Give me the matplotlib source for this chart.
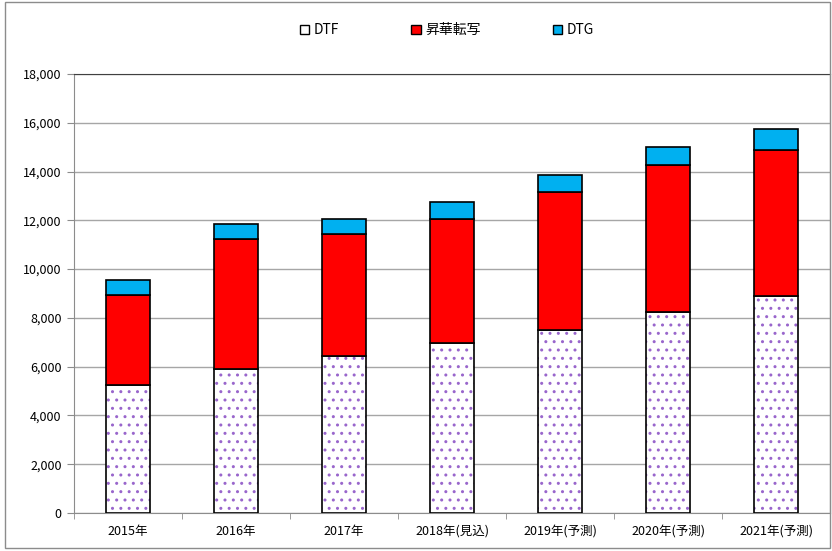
import matplotlib
matplotlib.use('Agg')
import matplotlib.pyplot as plt
from matplotlib.patches import Rectangle, Patch
from matplotlib.ticker import FuncFormatter, MultipleLocator
import numpy as np

plt.rcParams['font.family'] = ['Noto Sans CJK JP', 'DejaVu Sans']
plt.rcParams['hatch.linewidth'] = 1.0

# data
years = ['2015年', '2016年', '2017年', '2018年(見込)', '2019年(予測)', '2020年(予測)', '2021年(予測)']
dtf = [5250, 5900, 6450, 6950, 7500, 8250, 8900]
shoka = [3700, 5350, 5000, 5100, 5650, 6000, 6000]
dtg = [600, 620, 620, 700, 720, 770, 850]

fig = plt.figure(figsize=(8.32, 5.51), dpi=100)
ax = fig.add_axes([74/832, 38/551, 756/832, 439/551])

x = np.arange(len(years))
w = 0.4
bottom2 = np.array(dtf)
bottom3 = bottom2 + np.array(shoka)

# dotted DTF: purple dots, then black outline on top
ax.bar(x, dtf, w, color='white', edgecolor='#9966cc', hatch='..', linewidth=0, zorder=3)
ax.bar(x, dtf, w, color='none', edgecolor='black', linewidth=1.2, zorder=4)
ax.bar(x, shoka, w, bottom=bottom2, color='#ff0000', edgecolor='black', linewidth=1.2, zorder=4)
ax.bar(x, dtg, w, bottom=bottom3, color='#00b0f0', edgecolor='black', linewidth=1.2, zorder=4)

ax.set_xlim(-0.5, len(years) - 0.5)
ax.set_ylim(0, 18000)
ax.yaxis.set_major_locator(MultipleLocator(2000))
ax.yaxis.set_major_formatter(FuncFormatter(lambda v, p: f'{int(v):,}'))
ax.grid(axis='y', color='#a6a6a6', linewidth=1.0, zorder=0)
ax.set_xticks(x)
ax.set_xticklabels(years)
ax.set_xticks(np.arange(len(years) + 1) - 0.5, minor=True)
ax.tick_params(axis='x', which='major', length=0, pad=9, labelsize=9)
ax.tick_params(axis='x', which='minor', length=4, color='#8c8c8c')
ax.tick_params(axis='y', length=5, color='#8c8c8c', labelsize=9, pad=4)

for s in ['left', 'bottom']:
    ax.spines[s].set_color('#8c8c8c')
ax.spines['top'].set_color('#404040')
ax.spines['right'].set_color('#8c8c8c')

handles = [Patch(facecolor='white', edgecolor='black', label='DTF'),
           Patch(facecolor='#ff0000', edgecolor='black', label='昇華転写'),
           Patch(facecolor='#00b0f0', edgecolor='black', label='DTG')]
fig.legend(handles=handles, loc='center', bbox_to_anchor=(0.537, 0.945), ncol=3,
           frameon=False, fontsize=10, handlelength=0.7, handleheight=0.7,
           handletextpad=0.3, columnspacing=5.2)

fig.patches.append(Rectangle((5/832, 3/551), 825/832, 546/551, transform=fig.transFigure,
                             fill=False, edgecolor='#8c8c8c', linewidth=1.0))

fig.savefig('out.png', dpi=100)
